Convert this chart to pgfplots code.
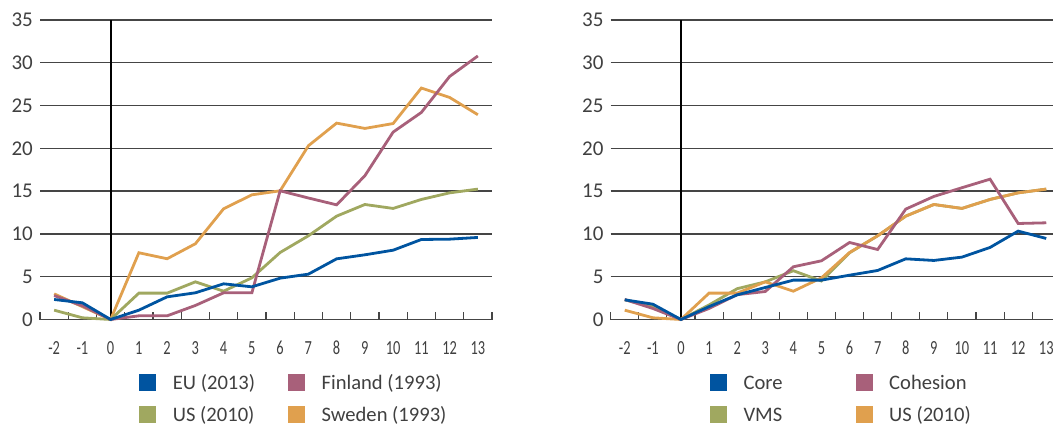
\documentclass[border=0pt]{standalone}
\usepackage{pgfplots}
\pgfplotsset{compat=1.18}
\usepackage{fontspec}
\setmainfont{Carlito}
\newfontfamily\xtickfont[FakeStretch=0.72]{Carlito}
\definecolor{cblue}{HTML}{0054A0}
\definecolor{cmauve}{HTML}{A8607A}
\definecolor{colive}{HTML}{A0A860}
\definecolor{corange}{HTML}{E0A04E}
\definecolor{txt}{HTML}{404040}
\definecolor{gridc}{HTML}{454545}
\newcommand{\sq}[1]{\textcolor{#1}{\rule[-1.7pt]{16.7pt}{16.7pt}}}
\newcommand{\lentry}[4]{\makebox[#1][l]{\sq{#2}\hspace{#3}#4}}
\pgfplotsset{
  panel/.style={
    scale only axis, height=299.5pt,
    xmin=-2.5, xmax=13.5, ymin=0, ymax=35,
    axis x line*=bottom, axis y line*=left,
    y axis line style={draw=none},
    x axis line style={gridc, line width=1.2pt},
    xtick={-2,...,13}, minor xtick={-2.5,-1.5,...,13.5},
    ytick={0,5,...,35},
    major tick length=0pt, minor tick length=7.5pt, tick align=inside,
    minor tick style={gridc, line width=1.1pt},
    ymajorgrids=true,
    major grid style={gridc, line width=1.3pt},
    /pgf/number format/assume math mode=true,
    yticklabel style={font=\fontsize{21}{21}\selectfont, text=txt, anchor=east, inner sep=0pt, xshift=-7pt},
    xticklabel style={font=\xtickfont\fontsize{20}{20}\selectfont, text=txt, anchor=north, inner sep=0pt, yshift=-21.5pt},
    clip=false,
    legend columns=2,
    legend style={draw=none, fill=none, inner sep=0pt, column sep=0pt, row sep=14pt, anchor=north west,
      nodes={inner sep=0pt, text height=15pt, text depth=3pt, text=txt, font=\fontsize{20.6}{20.6}\selectfont}},
    legend image code/.code={},
  },
  dl/.style={line width=2.8pt},
}
\begin{document}
\begin{tikzpicture}
\useasboundingbox (0,0) rectangle (1053pt,-425pt);
% Left panel
\begin{axis}[panel, width=452pt, at={(40pt,-319.5pt)}, anchor=south west,
  legend style={at={(0.219,-0.1826)}}]
\addlegendimage{cblue}\addlegendentry{\lentry{148.7pt}{cblue}{17pt}{EU (2013)}}
\addlegendimage{cmauve}\addlegendentry{\lentry{148.7pt}{cmauve}{17pt}{Finland (1993)}}
\addlegendimage{colive}\addlegendentry{\lentry{148.7pt}{colive}{17pt}{US (2010)}}
\addlegendimage{corange}\addlegendentry{\lentry{148.7pt}{corange}{17pt}{Sweden (1993)}}
\addplot[black, line width=1.8pt, forget plot] coordinates {(0,0) (0,35)};
% Sweden
\addplot[dl, corange, forget plot] coordinates {(-2,3.0) (-1,1.5) (0,0) (1,7.8) (2,7.1) (3,8.85) (4,12.94) (5,14.57) (6,15.04) (7,20.3) (8,22.95) (9,22.33) (10,22.9) (11,27.05) (12,25.95) (13,23.93)};
% US
\addplot[dl, colive, forget plot] coordinates {(-2,1.09) (-1,0.2) (0,0) (1,3.08) (2,3.08) (3,4.4) (4,3.31) (5,4.87) (6,7.83) (7,9.78) (8,12.08) (9,13.44) (10,12.98) (11,14.03) (12,14.8) (13,15.24)};
% Finland
\addplot[dl, cmauve, forget plot] coordinates {(-2,2.8) (-1,1.6) (0,0) (1,0.43) (2,0.43) (3,1.64) (4,3.12) (5,3.12) (6,15.04) (7,14.2) (8,13.4) (9,16.8) (10,21.9) (11,24.2) (12,28.4) (13,30.8)};
% EU
\addplot[dl, cblue, forget plot] coordinates {(-2,2.34) (-1,1.95) (0,0) (1,1.09) (2,2.65) (3,3.12) (4,4.17) (5,3.82) (6,4.83) (7,5.3) (8,7.09) (9,7.56) (10,8.1) (11,9.35) (12,9.39) (13,9.59)};
\end{axis}
% Right panel
\begin{axis}[panel, width=449.6pt, at={(610.7pt,-319.5pt)}, anchor=south west,
  legend style={at={(0.2209,-0.1826)}}]
\addlegendimage{cblue}\addlegendentry{\lentry{145.7pt}{cblue}{16.6pt}{Core}}
\addlegendimage{cmauve}\addlegendentry{\lentry{145.7pt}{cmauve}{16.6pt}{Cohesion}}
\addlegendimage{colive}\addlegendentry{\lentry{145.7pt}{colive}{16.6pt}{VMS}}
\addlegendimage{corange}\addlegendentry{\lentry{145.7pt}{corange}{16.6pt}{US (2010)}}
\addplot[black, line width=1.8pt, forget plot] coordinates {(0,0) (0,35)};
% VMS
\addplot[dl, colive, forget plot] coordinates {(-2,2.3) (-1,1.5) (0,0) (1,1.7) (2,3.6) (3,4.4) (4,5.7) (5,4.5) (6,7.8) (7,9.78) (8,12.08) (9,13.44) (10,12.98) (11,14.03) (12,14.8) (13,15.24)};
% US
\addplot[dl, corange, forget plot] coordinates {(-2,1.09) (-1,0.2) (0,0) (1,3.08) (2,3.08) (3,4.4) (4,3.31) (5,4.87) (6,7.83) (7,9.78) (8,12.08) (9,13.44) (10,12.98) (11,14.03) (12,14.8) (13,15.24)};
% Cohesion
\addplot[dl, cmauve, forget plot] coordinates {(-2,2.34) (-1,1.29) (0,0) (1,1.29) (2,2.9) (3,3.27) (4,6.16) (5,6.86) (6,9.0) (7,8.18) (8,12.9) (9,14.38) (10,15.4) (11,16.4) (12,11.22) (13,11.3)};
% Core
\addplot[dl, cblue, forget plot] coordinates {(-2,2.3) (-1,1.79) (0,0) (1,1.5) (2,2.88) (3,3.74) (4,4.6) (5,4.6) (6,5.18) (7,5.73) (8,7.09) (9,6.9) (10,7.29) (11,8.42) (12,10.33) (13,9.47)};
\end{axis}
\end{tikzpicture}
\end{document}
